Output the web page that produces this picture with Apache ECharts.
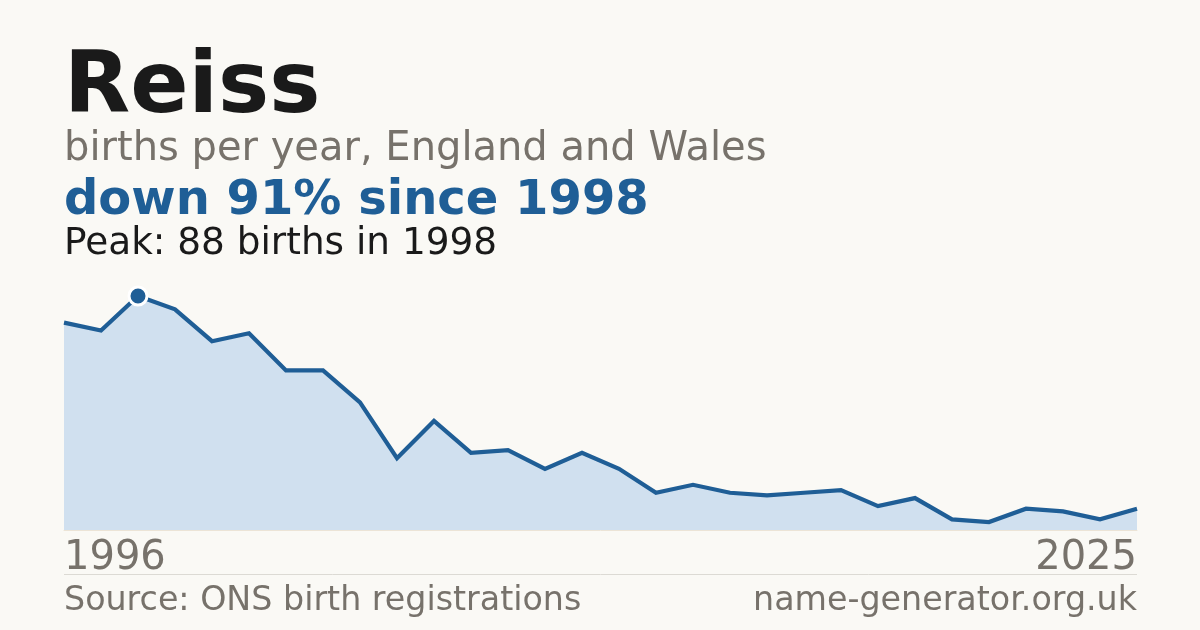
<!DOCTYPE html>
<html>
<head>
<meta charset="utf-8">
<script src="https://cdn.jsdelivr.net/npm/echarts@6/dist/echarts.min.js"></script>
<style>
html,body{margin:0;padding:0;background:#faf9f5;}
#c{width:1200px;height:630px;}
</style>
</head>
<body>
<div id="c"></div>
<script>
const years = ["1996","1997","1998","1999","2000","2001","2002","2003","2004","2005",
               "2006","2007","2008","2009","2010","2011","2012","2013","2014","2015",
               "2016","2017","2018","2019","2020","2021","2022","2023","2024","2025"];
const births = [78,75,88,83,71,74,60,60,48,27,
                41,29,30,23,29,23,14,17,14,13,
                14,15,9,12,4,3,8,7,4,8];
const titleText = "Reiss";
const subtitleText = "births per year, England and Wales";
const headlineText = "down 91% since 1998";
const peakText = "Peak: 88 births in 1998";
const sourceText = "Source: ONS birth registrations";
const siteText = "name-generator.org.uk";

const FONT = "'DejaVu Sans', sans-serif";
const BLUE = "#1f5e96";
const GREY = "#77726b";
const DARK = "#1a1a1a";

const peakIdx = births.indexOf(Math.max(...births));
const seriesData = births.map((v, i) => i === peakIdx ? {
  value: v, symbol: 'circle', symbolSize: 18,
  itemStyle: {color: BLUE, borderColor: '#ffffff', borderWidth: 3}
} : {value: v, symbol: 'none'});

const chart = echarts.init(document.getElementById('c'), null, {renderer: 'canvas'});
const last = years.length - 1;
chart.setOption({
  backgroundColor: '#faf9f5',
  animation: false,
  grid: {left: 64, right: 63, top: 296, bottom: 100, containLabel: false},
  xAxis: {
    type: 'category', data: years, boundaryGap: false,
    axisLine: {show: true, lineStyle: {color: '#ece4d6', width: 1}},
    axisTick: {show: false},
    splitLine: {show: false},
    axisLabel: {
      interval: (i) => i === 0 || i === last,
      margin: 9,
      color: GREY, fontFamily: FONT, fontSize: 40, lineHeight: 40,
      alignMinLabel: 'left', alignMaxLabel: 'right'
    }
  },
  yAxis: {type: 'value', min: 0, max: 88, show: false, splitLine: {show: false}},
  series: [{
    type: 'line', data: seriesData, z: 3,
    showSymbol: true,
    lineStyle: {color: BLUE, width: 4.2, join: 'miter'},
    itemStyle: {color: BLUE},
    areaStyle: {color: '#d0e0ef', opacity: 1},
    emphasis: {disabled: true}
  }],
  graphic: [
    {type: 'text', left: 64, top: 47, style: {text: titleText, font: "bold 86px " + FONT, fill: DARK, lineHeight: 86}},
    {type: 'text', left: 64, top: 130, style: {text: subtitleText, font: "40px " + FONT, fill: GREY, lineHeight: 40}},
    {type: 'text', left: 64, top: 178, style: {text: headlineText, font: "bold 48px " + FONT, fill: BLUE, lineHeight: 48}},
    {type: 'text', left: 64, top: 226, style: {text: peakText, font: "37.4px " + FONT, fill: DARK, lineHeight: 37}},
    {type: 'line', shape: {x1: 64, y1: 574.5, x2: 1137, y2: 574.5}, style: {stroke: '#dcdad4', lineWidth: 1}},
    {type: 'text', left: 64, top: 585, style: {text: sourceText, font: "33.3px " + FONT, fill: GREY, lineHeight: 33}},
    {type: 'text', right: 63, top: 585, style: {text: siteText, font: "33.3px " + FONT, fill: GREY, lineHeight: 33}}
  ]
});
</script>
</body>
</html>
